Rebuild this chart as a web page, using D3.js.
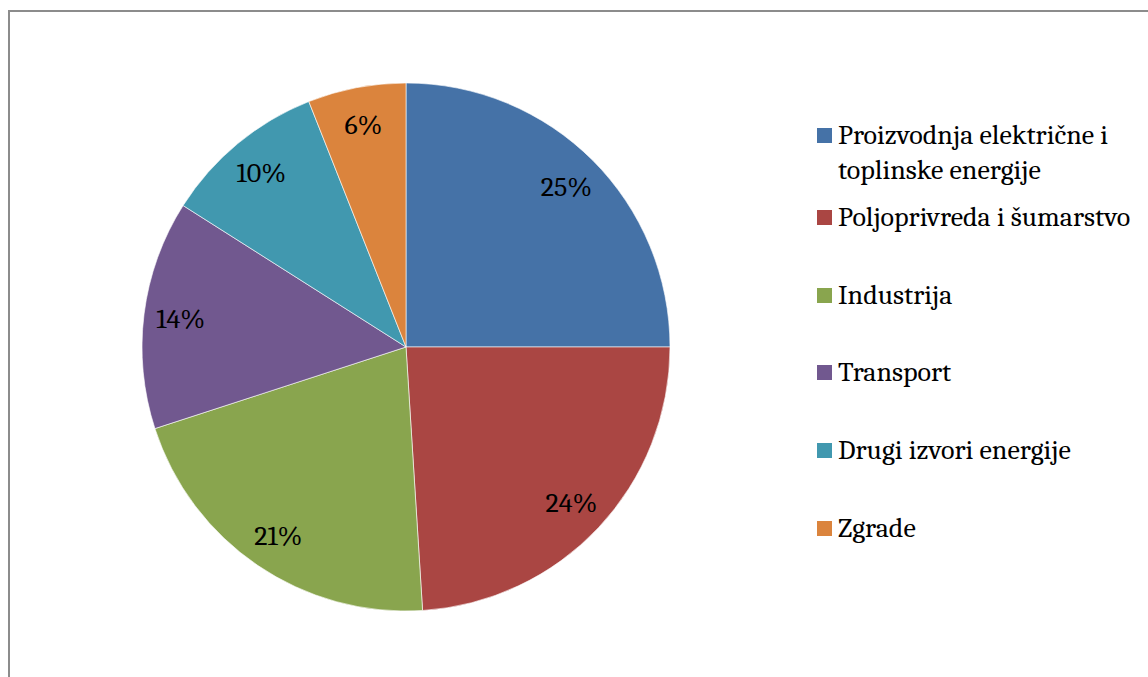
<!DOCTYPE html>
<html>
<head>
<meta charset="utf-8">
<script src="https://cdn.jsdelivr.net/npm/d3@7"></script>
<style>
  body { margin: 0; background: #fff; }
  svg text { font-family: Cambria, "Liberation Serif", "DejaVu Serif", serif; fill: #000; }
</style>
</head>
<body>
<svg id="chart" width="1148" height="677"></svg>
<script>
// Podaci grafikona
const categories = ["Proizvodnja električne i toplinske energije", "Poljoprivreda i šumarstvo", "Industrija", "Transport", "Drugi izvori energije", "Zgrade"];
const values = [25, 24, 21, 14, 10, 6];
const legendLines = [["Proizvodnja električne i", "toplinske energije"], ["Poljoprivreda i šumarstvo"], ["Industrija"], ["Transport"], ["Drugi izvori energije"], ["Zgrade"]];
const colors = ["#4572A7", "#AA4643", "#89A54E", "#71588F", "#4198AF", "#DB843D"];

const svg = d3.select("#chart");

// okvir
svg.append("rect")
    .attr("x", 9).attr("y", 11)
    .attr("width", 1160).attr("height", 700)
    .attr("fill", "none")
    .attr("stroke", "#8c8c8c")
    .attr("stroke-width", 2);

const cx = 406, cy = 347, radius = 264;

const pie = d3.pie().sort(null).value(d => d);
const arc = d3.arc().innerRadius(0).outerRadius(radius);
const labelArc = d3.arc().innerRadius(radius * 0.86).outerRadius(radius * 0.86);

const g = svg.append("g").attr("transform", `translate(${cx},${cy})`);
const arcs = pie(values);

g.selectAll("path")
    .data(arcs)
    .enter().append("path")
    .attr("d", arc)
    .attr("fill", (d, i) => colors[i])
    .attr("stroke", "#ffffff")
    .attr("stroke-opacity", 0.6)
    .attr("stroke-width", 1);

g.selectAll("text.lbl")
    .data(arcs)
    .enter().append("text")
    .attr("class", "lbl")
    .attr("transform", d => `translate(${labelArc.centroid(d)})`)
    .attr("text-anchor", "middle")
    .attr("dy", "0.35em")
    .style("font-size", "28px")
    .text(d => d.data + "%");

// legenda
const legend = svg.append("g");
const rowY = [144, 226, 304, 381, 459, 537];
legendLines.forEach((lines, i) => {
    legend.append("rect")
        .attr("x", 817).attr("y", rowY[i] - 16)
        .attr("width", 15).attr("height", 15)
        .attr("fill", colors[i]);
    const t = legend.append("text")
        .attr("x", 838).attr("y", rowY[i])
        .style("font-size", "28px");
    lines.forEach((line, j) => {
        t.append("tspan").attr("x", 838).attr("dy", j === 0 ? 0 : 35).text(line);
    });
});
</script>
</body>
</html>
